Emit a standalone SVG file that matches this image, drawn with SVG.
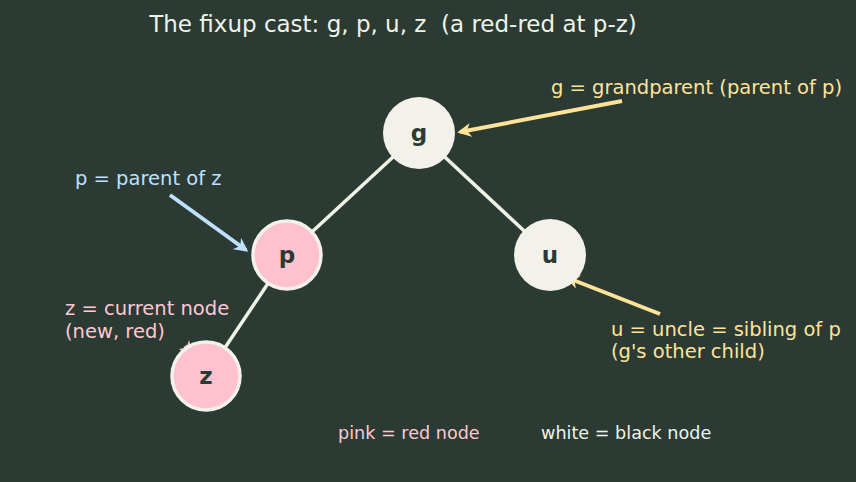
<svg xmlns="http://www.w3.org/2000/svg" width="856" height="482" viewBox="0 0 856 482">
<defs>
<style>
text{font-family:"DejaVu Sans","Liberation Sans",sans-serif}
.title{font-size:23px;fill:#eef3ea}
.lbl{font-size:19.5px}
.leg{font-size:17.6px}
.edge{stroke:#eef3e6;stroke-width:3.5;fill:none}
.black{fill:#f2f2ea}
.red{fill:#ffc0cf;stroke:#f2f2ea;stroke-width:3.5}
.nt{font-size:23px;font-weight:bold;fill:#2b3a33;text-anchor:middle}
.ay{stroke:#ffe396;stroke-width:4;fill:none}
.ab{stroke:#bfe0ff;stroke-width:4;fill:none}
.ap{stroke:#ffc0cf;stroke-width:4;fill:none}
</style>
<marker id="my" viewBox="0 0 10 10" refX="8" refY="5" markerWidth="3.5" markerHeight="3.5" orient="auto" markerUnits="strokeWidth"><path d="M0,0 L10,5 L0,10 L3,5 Z" fill="#ffe396"/></marker>
<marker id="mb" viewBox="0 0 10 10" refX="8" refY="5" markerWidth="3.5" markerHeight="3.5" orient="auto" markerUnits="strokeWidth"><path d="M0,0 L10,5 L0,10 L3,5 Z" fill="#bfe0ff"/></marker>
<marker id="mp" viewBox="0 0 10 10" refX="8" refY="5" markerWidth="3.5" markerHeight="3.5" orient="auto" markerUnits="strokeWidth"><path d="M0,0 L10,5 L0,10 L3,5 Z" fill="#ffc0cf"/></marker>
</defs>
<rect width="856" height="482" fill="#2b3a33"/>
<text class="title" x="393" y="32" text-anchor="middle" xml:space="preserve">The fixup cast: g, p, u, z  (a red-red at p-z)</text>
<g id="connectors">
<line class="edge" x1="419" y1="133" x2="287" y2="255"/>
<line class="edge" x1="419" y1="133" x2="550" y2="255"/>
<line class="edge" x1="287" y1="255" x2="206" y2="376"/>
<line class="ay" x1="622" y1="101" x2="460" y2="132" marker-end="url(#my)"/>
<line class="ab" x1="170" y1="195" x2="246" y2="250" marker-end="url(#mb)"/>
<line class="ay" x1="660" y1="314" x2="568" y2="278" marker-end="url(#my)"/>
<line class="ap" x1="185" y1="346" x2="191" y2="353" marker-end="url(#mp)"/>
</g>
<g id="node-g"><circle class="black" cx="419" cy="133" r="36"/><text class="nt" x="419" y="141">g</text></g>
<g id="node-u"><circle class="black" cx="550" cy="255" r="36"/><text class="nt" x="550" y="263">u</text></g>
<g id="node-p"><circle class="red" cx="287" cy="255" r="34"/><text class="nt" x="287" y="263">p</text></g>
<g id="node-z"><circle class="red" cx="206" cy="376" r="34"/><text class="nt" x="206" y="384">z</text></g>
<g id="labels">
<text class="lbl" x="551" y="94" fill="#ffe39a">g = grandparent (parent of p)</text>
<text class="lbl" x="75" y="185" fill="#bfe0ff">p = parent of z</text>
<text class="lbl" x="65" y="315" fill="#ffc8d2">z = current node</text>
<text class="lbl" x="65" y="338" fill="#ffc8d2">(new, red)</text>
<text class="lbl" x="611" y="336" fill="#ffe39a">u = uncle = sibling of p</text>
<text class="lbl" x="611" y="358" fill="#ffe39a">(g's other child)</text>
<text class="leg" x="338" y="439" fill="#ffc8d2">pink = red node</text>
<text class="leg" x="541" y="439" fill="#eef3ea">white = black node</text>
</g>
</svg>
